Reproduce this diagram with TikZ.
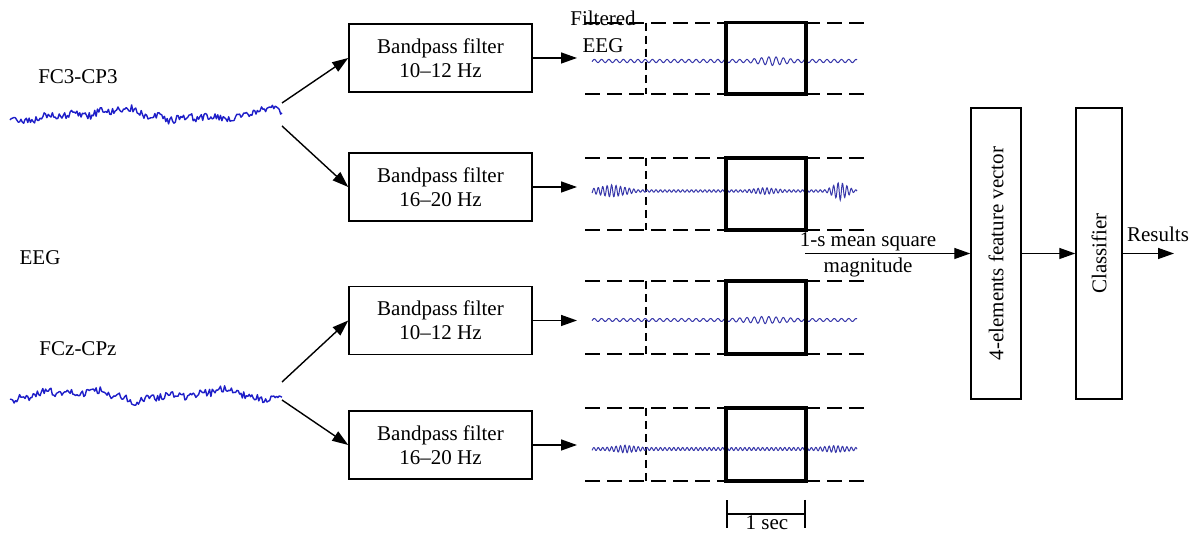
\documentclass[tikz,border=0pt]{standalone}
\usepackage{fontspec}
\setmainfont{Liberation Serif}
\usepackage{xcolor}
\usetikzlibrary{positioning,arrows.meta}
\definecolor{eegblue}{RGB}{30,30,200}
\definecolor{filtblue}{RGB}{55,55,170}
\tikzset{
  filt/.style={draw, line width=0.75pt, minimum width=91.5pt, minimum height=34pt, align=center, inner sep=0pt},
  vbox/.style={draw, line width=0.75pt, rotate=90, inner sep=0pt},
  arr/.style={line width=0.7pt, -{Triangle[length=8pt,width=5.5pt]}},
  rail/.style={line width=1pt, dash pattern=on 7.5pt off 3.5pt},
  cut/.style={line width=0.8pt, dash pattern=on 4pt off 2.5pt},
  win/.style={line width=1.6pt},
  raw/.style={eegblue, line width=0.7pt, line join=round},
  fsig/.style={filtblue, line width=0.5pt}
}

\begin{document}
\begin{tikzpicture}[x=0.5pt, y=-0.5pt, font=\fontsize{10.5}{12}\selectfont]
  \useasboundingbox (0,0) rectangle (1195,533);

  % raw channels
  \node (ch1) at (78,77) {FC3-CP3};
  \node (eeg) at (40,258) {EEG};
  \node (ch2) at (78,349) {FCz-CPz};
  \pgfmathsetseed{11}
  \draw[raw] plot[domain=10:282, samples=200]
    (\x,{115+3.8*rand+4*sin(2.2*\x+20)+2.2*sin(5*\x)+1.5*sin(13*\x+30)});
  \pgfmathsetseed{23}
  \draw[raw] plot[domain=10:282, samples=200]
    (\x,{395+3.8*rand+3.5*sin(2.6*\x+70)+2*sin(6*\x)+1.5*sin(14*\x)});
  \coordinate (s1a) at (282,103);
  \coordinate (s1b) at (282,126);
  \coordinate (s2a) at (282,382);
  \coordinate (s2b) at (282,400);

  % bandpass filters
  \node[filt] (f1) at (440.5,58) {Bandpass filter\\10--12 Hz};
  \node[filt] (f2) at (440.5,187) {Bandpass filter\\16--20 Hz};
  \node[filt] (f3) at (440.5,320.5) {Bandpass filter\\10--12 Hz};
  \node[filt] (f4) at (440.5,445) {Bandpass filter\\16--20 Hz};
  \draw[arr] (s1a) -- (f1.west);
  \draw[arr] (s1b) -- (f2.west);
  \draw[arr] (s2a) -- (f3.west);
  \draw[arr] (s2b) -- (f4.west);

  \coordinate (p1) at (577,58);
  \coordinate (p2) at (577,187);
  \coordinate (p3) at (577,320.5);
  \coordinate (p4) at (577,445);
  \draw[arr] (f1) -- (p1);
  \draw[arr] (f2) -- (p2);
  \draw[arr] (f3) -- (p3);
  \draw[arr] (f4) -- (p4);

  % filtered signals with 1-s windows
  \node[align=center, font=\fontsize{10.5}{13.5}\selectfont] (filtlab) at (603,32) {Filtered\\EEG};
  \foreach \t/\b in {22.7/94, 158/230, 281/354, 408/481} {
    \draw[rail] (585,\t) -- (865,\t);
    \draw[rail] (585,\b) -- (865,\b);
    \draw[cut] (646,\t) -- (646,\b);
  }
  \draw[fsig] plot[domain=592:857, samples=450]
    (\x,{61+(1.6+3*max(0,1-abs(\x-772)/24))*sin(mod(\x,7.27)*49.5)});
  \draw[fsig] plot[domain=592:857, samples=650]
    (\x,{191+(1.2+5*max(0,1-abs(\x-612)/26)+2.2*max(0,1-abs(\x-765)/20)+8*max(0,1-abs(\x-840)/14))*sin(mod(\x,4.44)*81)});
  \draw[fsig] plot[domain=592:857, samples=450]
    (\x,{320+(1.5+2.2*max(0,1-abs(\x-765)/35))*sin(mod(\x,7.27)*49.5)});
  \draw[fsig] plot[domain=592:857, samples=650]
    (\x,{449+(1.5+2.4*max(0,1-abs(\x-625)/20)+2*max(0,1-abs(\x-835)/20))*sin(mod(\x,4.44)*81)});
  \foreach \t/\b in {22.7/94, 158/230, 281/354, 408/481}
    \draw[win] (726,\t) rectangle (806,\b);

  % one second scale
  \draw[line width=0.8pt, {Bar[width=14pt]}-{Bar[width=14pt]}] (726,514) -- (806,514);
  \node[inner sep=1pt] (onesec) at (767,523) {1 sec};

  % feature vector and classifier
  \coordinate (msq) at (805,253.5);
  \node[vbox, minimum width=145.5pt, minimum height=25pt] (fv) at (996,253.5) {4-elements feature vector};
  \node[vbox, minimum width=145.5pt, minimum height=23pt] (cls) at (1099,253.5) {Classifier};
  \coordinate (res) at (1174,253.5);
  \node (msqtxt) at (868,242) {1-s mean square};
  \node (magtxt) at (868,267) {magnitude};
  \node (restxt) at (1158,234) {Results};
  \draw[arr] (msq) -- (fv);
  \draw[arr] (fv) -- (cls);
  \draw[arr] (cls) -- (res);
\end{tikzpicture}
\end{document}
